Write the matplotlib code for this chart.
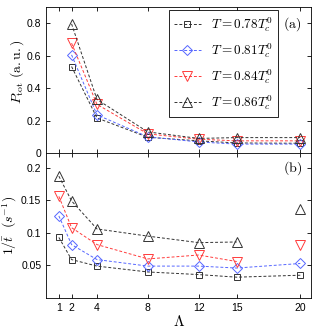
import numpy as np
import matplotlib.pyplot as plt

plt.rcParams['mathtext.fontset'] = 'cm'
plt.rcParams['font.family'] = ['Liberation Sans', 'DejaVu Sans']

# данные панели (a)
lam_a = [2, 4, 8, 12, 15, 20]
p78 = [0.533, 0.216, 0.097, 0.075, 0.062, 0.060]
p81 = [0.605, 0.235, 0.100, 0.068, 0.055, 0.055]
p84 = [0.677, 0.300, 0.118, 0.085, 0.075, 0.075]
p86 = [0.796, 0.330, 0.130, 0.090, 0.095, 0.095]

# данные панели (b)
lam_b = [1, 2, 4, 8, 12, 15, 20]
r78 = [0.093, 0.059, 0.049, 0.040, 0.036, 0.032, 0.035]
r81 = [0.126, 0.082, 0.059, 0.049, 0.049, 0.046, 0.053]
r84 = [0.156, 0.108, 0.082, 0.060, 0.066, 0.056, 0.082]
r86 = [0.187, 0.149, 0.106, 0.095, 0.085, 0.086, 0.137]

labels = [r'$T=0.78T_c^0$', r'$T=0.81T_c^0$', r'$T=0.84T_c^0$', r'$T=0.86T_c^0$']
colors = ['#333333', '#5566ff', '#ff3c3c', '#333333']
markers = ['s', 'D', 'v', '^']
msizes = [5, 5.5, 6.5, 6.5]

fig = plt.figure(figsize=(3.32, 3.33), dpi=100)
ax1 = fig.add_axes([0.139, 0.5405, 0.798, 0.4385])
ax2 = fig.add_axes([0.139, 0.105, 0.798, 0.4355])

for y, lab, c, m, ms in zip([p78, p81, p84, p86], labels, colors, markers, msizes):
    ax1.plot(lam_a, y, ls='--', dashes=(3, 2), lw=0.7, color=c, marker=m, ms=ms,
             mfc='none', mec=c, mew=0.7, label=lab)

# в (b) треугольники при Λ=20 не соединены линией
for y, c, m, ms in zip([r78, r81, r84, r86], colors, markers, msizes):
    if m in ('v', '^'):
        ax2.plot(lam_b[:-1], y[:-1], ls='--', dashes=(3, 2), lw=0.7, color=c, marker=m,
                 ms=ms, mfc='none', mec=c, mew=0.7)
        ax2.plot(lam_b[-1:], y[-1:], ls='none', marker=m, ms=ms, mfc='none', mec=c, mew=0.7)
    else:
        ax2.plot(lam_b, y, ls='--', dashes=(3, 2), lw=0.7, color=c, marker=m, ms=ms,
                 mfc='none', mec=c, mew=0.7)

for ax in (ax1, ax2):
    ax.set_xlim(0, 20.85)
    ax.set_xticks(lam_b)
    ax.tick_params(direction='in', top=True, right=True, labelsize=7.5, length=3, width=0.6)
    for s in ax.spines.values():
        s.set_linewidth(0.6)

ax1.set_ylim(0, 0.9)
ax1.set_yticks([0, 0.2, 0.4, 0.6, 0.8])
ax1.set_yticklabels(['0', '0.2', '0.4', '0.6', '0.8'])
ax1.set_xticklabels([])
ax1.set_ylabel(r'$P_{\rm tot}\ \rm (a.u.)$', fontsize=10)
ax1.yaxis.set_label_coords(-0.075, 0.56)
ax1.text(0.895, 0.884, r'$\rm(a)$', transform=ax1.transAxes, fontsize=10, va='center')
leg = ax1.legend(loc='upper right', bbox_to_anchor=(0.875, 0.98), borderaxespad=0,
                 fontsize=9.5, fancybox=False, edgecolor='black', framealpha=1,
                 handlelength=2.0, labelspacing=0.55, borderpad=0.4)
leg.get_frame().set_linewidth(0.6)

ax2.set_ylim(0, 0.2225)
ax2.set_yticks([0.05, 0.1, 0.15, 0.2])
ax2.set_yticklabels(['0.05', '0.1', '0.15', '0.2'])
ax2.set_ylabel(r'$1/\bar{t}\ \ (s^{-1})$', fontsize=10)
ax2.yaxis.set_label_coords(-0.102, 0.5)
ax2.set_xlabel(r'$\Lambda$', fontsize=11, labelpad=1)
ax2.text(0.895, 0.897, r'$\rm(b)$', transform=ax2.transAxes, fontsize=10, va='center')

fig.savefig('out.png', dpi=100)
